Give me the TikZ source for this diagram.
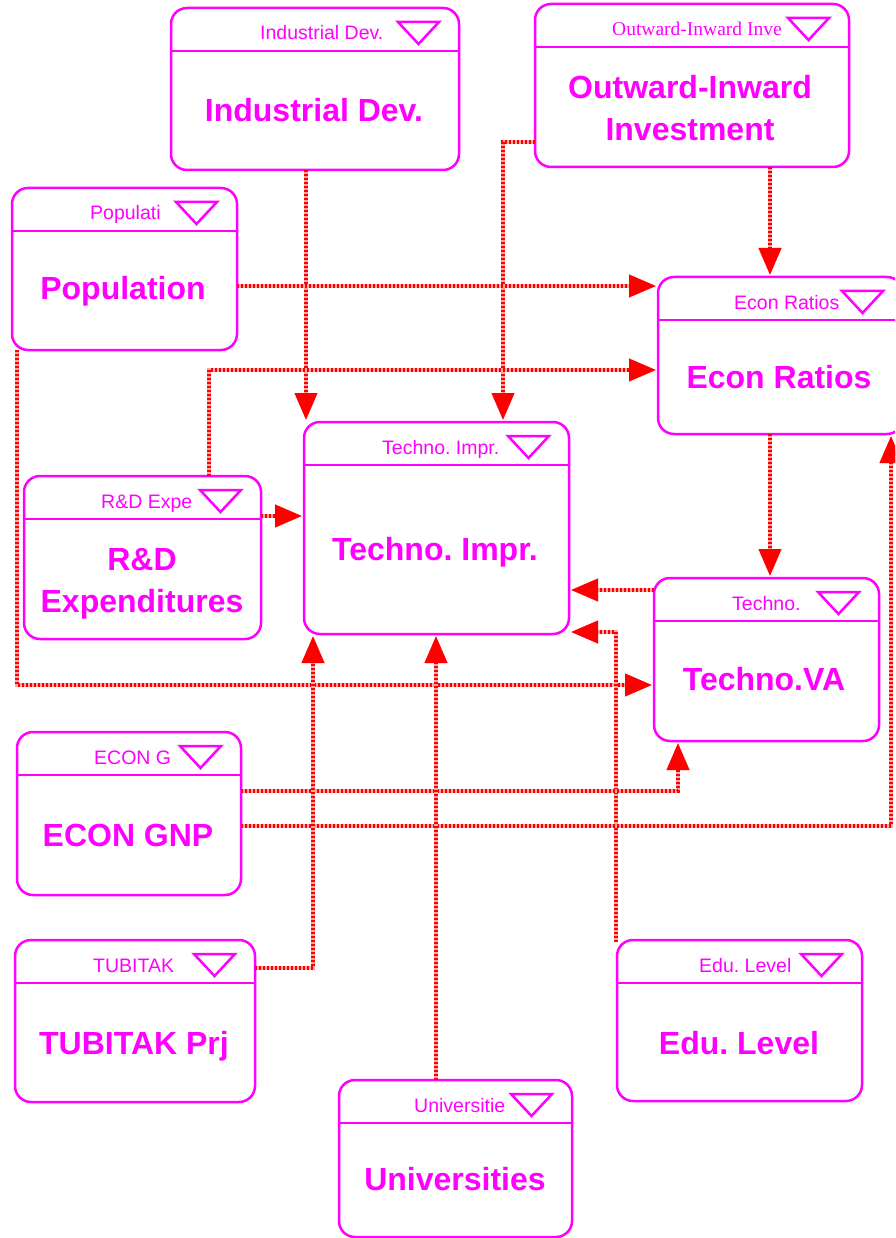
\documentclass[tikz,border=0pt]{standalone}
\usepackage{fontspec}
\setmainfont{Liberation Sans}
\newfontfamily\tnrfont{Liberation Serif}
\usetikzlibrary{arrows.meta}
\definecolor{mag}{HTML}{FF00FF}
\definecolor{cred}{HTML}{FF0000}
\frenchspacing
\tikzset{
 ubox/.style={draw=mag, line width=2.5pt, rounded corners=16pt, inner sep=0pt, outer sep=0pt, fill=white},
 uline/.style={draw=mag, line width=2.5pt},
 utri/.style={draw=mag, line width=2.5pt, line join=miter},
 ulabel/.style={text=mag, font=\fontsize{19.5}{23}\selectfont, inner sep=0pt, anchor=base west},
 umain/.style={text=mag, font=\fontsize{32}{42}\selectfont\bfseries, inner sep=0pt, align=center},
 conn/.style={draw=cred, line width=4pt, dash pattern=on 2pt off 2pt,
   -{Triangle[length=27pt,width=22pt]},
   preaction={draw=cred!35, solid, line width=4pt}},
}
\newcommand\ubx[7]{%
 \node[ubox, minimum width={#4-#2}, minimum height={#5-#3}] (#1) at ({(#2+#4)/2},{(#3+#5)/2}) {};
 \draw[uline] ([yshift=-43pt]#1.north west) -- ([yshift=-43pt]#1.north east);
 \draw[utri] ([xshift=-61pt,yshift=-14pt]#1.north east) -- ([xshift=-20pt,yshift=-14pt]#1.north east) -- ([xshift=-40.5pt,yshift=-36pt]#1.north east) -- cycle;
 \node[ulabel] (#1-h) at (#6,{#3+32}) {#7};
}
\begin{document}
\begin{tikzpicture}[x=1pt,y=-1pt]
\useasboundingbox (0,0) rectangle (895,1238);
\clip (0,0) rectangle (895,1238);
% boxes
\ubx{ind}{171}{8}{459}{170}{260}{Industrial Dev.}
\ubx{oi}{535}{4}{849}{167}{612}{\tnrfont Outward-Inward Inve}
\ubx{pop}{12}{188}{237}{350}{90}{Populati}
\ubx{er}{658}{277}{903}{434}{734}{Econ Ratios}
\ubx{tim}{304}{422}{569}{634}{382}{Techno. Impr.}
\ubx{rd}{24}{476}{261}{639}{101}{R\&D Expe}
\ubx{tva}{654}{578}{879}{741}{732}{Techno.}
\ubx{gnp}{17}{732}{241}{895}{94}{ECON G}
\ubx{tub}{15}{940}{255}{1102}{93}{TUBITAK}
\ubx{edu}{617}{940}{862}{1101}{699}{Edu. Level}
\ubx{uni}{339}{1080}{572}{1237}{414}{Universitie}
% main texts
\node[umain, anchor=base] (ind-m) at (314,122) {Industrial Dev.};
\node[umain, anchor=center] (oi-m) at (690,108) {Outward-Inward\\Investment};
\node[umain, anchor=base] (pop-m) at (123,300) {Population};
\node[umain, anchor=base] (er-m) at (779,388) {Econ Ratios};
\node[umain, anchor=base] (tim-m) at (435,560) {Techno. Impr.};
\node[umain, anchor=center] (rd-m) at (142,583.5) {R\&D\\Expenditures};
\node[umain, anchor=base] (tva-m) at (764,690) {Techno.VA};
\node[umain, anchor=base] (gnp-m) at (128,846) {ECON GNP};
\node[umain, anchor=base] (tub-m) at (134,1054) {TUBITAK Prj};
\node[umain, anchor=base] (edu-m) at (739,1054) {Edu. Level};
\node[umain, anchor=base] (uni-m) at (455,1190) {Universities};
% connectors
\draw[conn] ([xshift=-9pt]ind.south) -- ([xshift=-130.5pt,yshift=2pt]tim.north);
\draw[conn] ([yshift=-56.5pt]oi.west) -| ([xshift=66.5pt,yshift=2pt]tim.north);
\draw[conn] ([xshift=78pt]oi.south) -- ([xshift=-10.5pt,yshift=2pt]er.north);
\draw[conn] ([yshift=-17pt]pop.east) -- ([xshift=-2pt,yshift=69.5pt]er.west);
\draw[conn] ([xshift=5pt]pop.south west) |- ([xshift=-2pt,yshift=-25.5pt]tva.west);
\draw[conn] ([xshift=66.5pt]rd.north) |- ([xshift=-2pt,yshift=-14.5pt]er.west);
\draw[conn] ([yshift=41.5pt]rd.east) -- ([xshift=-2pt,yshift=12pt]tim.west);
\draw[conn] ([xshift=-10.5pt]er.south) -- ([xshift=3.5pt,yshift=2pt]tva.north);
\draw[conn] ([yshift=69.5pt]tva.west) -- ([xshift=2pt,yshift=-62pt]tim.east);
\draw[conn] ([xshift=-1pt,yshift=-2pt]edu.north west) |- ([xshift=2pt,yshift=-104pt]tim.east);
\draw[conn] ([yshift=22.5pt]gnp.east) -| ([xshift=-88.5pt,yshift=-2pt]tva.south);
\draw[conn] ([yshift=-12.5pt]gnp.east) -| ([xshift=-12pt,yshift=-2pt]er.south east);
\draw[conn] ([yshift=53pt]tub.east) -| ([xshift=-123.5pt,yshift=-2pt]tim.south);
\draw[conn] ([xshift=-19.5pt]uni.north) -- ([xshift=-0.5pt,yshift=-2pt]tim.south);
\end{tikzpicture}
\end{document}
